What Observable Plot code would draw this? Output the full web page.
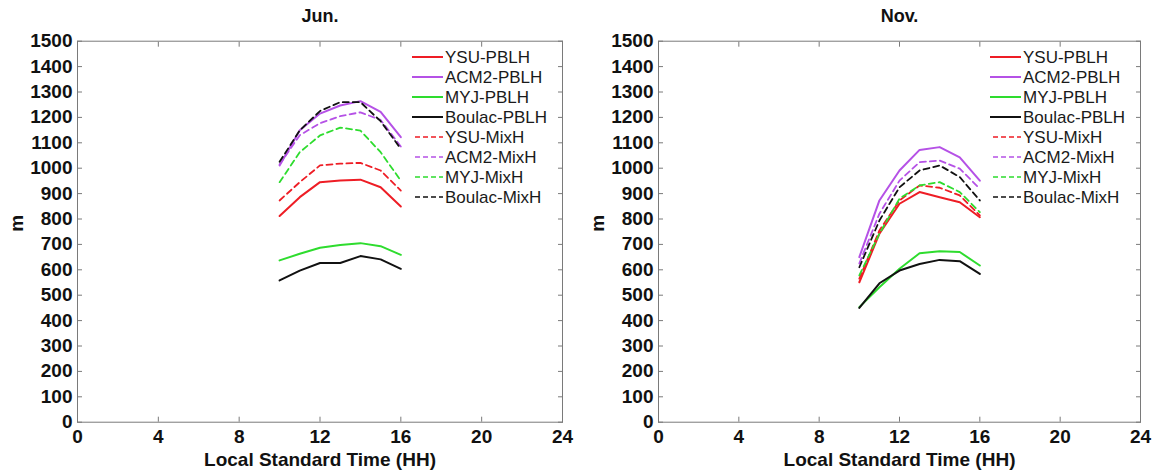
<!DOCTYPE html>
<html>
<head>
<meta charset="utf-8">
<script src="https://cdn.jsdelivr.net/npm/d3@7"></script>
<script src="https://cdn.jsdelivr.net/npm/@observablehq/plot@0.6"></script>
<style>
  body { margin: 0; background: #fff; overflow: hidden; }
  #wrap { position: relative; width: 1154px; height: 472px; font-family: "Liberation Sans", Arial, Helvetica, sans-serif; }
  .panel { position: absolute; top: 0; }
</style>
</head>
<body>
<div id="wrap">
  <div id="left" class="panel" style="left:0px"></div>
  <div id="right" class="panel" style="left:580px"></div>
</div>
<script>
// ---- data ----
const hours = [10, 11, 12, 13, 14, 15, 16];
const seriesNames = ["YSU-PBLH", "ACM2-PBLH", "MYJ-PBLH", "Boulac-PBLH", "YSU-MixH", "ACM2-MixH", "MYJ-MixH", "Boulac-MixH"];
const seriesColors = ["#ee1d25", "#b551e6", "#2edc2e", "#111111", "#ee1d25", "#b551e6", "#2edc2e", "#111111"];
const seriesDashed = [false, false, false, false, true, true, true, true];
const xTicks = [0, 4, 8, 12, 16, 20, 24];
const yTicks = [0, 100, 200, 300, 400, 500, 600, 700, 800, 900, 1000, 1100, 1200, 1300, 1400, 1500];

// June
const junYSU_PBLH    = [812, 886, 945, 952, 955, 925, 849];
const junACM2_PBLH   = [1011, 1149, 1215, 1247, 1264, 1222, 1122];
const junMYJ_PBLH    = [637, 663, 687, 698, 705, 693, 659];
const junBoulac_PBLH = [558, 597, 627, 627, 654, 641, 604];
const junYSU_MixH    = [873, 945, 1011, 1018, 1021, 991, 912];
const junACM2_MixH   = [1015, 1130, 1177, 1205, 1220, 1190, 1085];
const junMYJ_MixH    = [945, 1063, 1129, 1160, 1148, 1063, 951];
const junBoulac_MixH = [1025, 1149, 1225, 1260, 1260, 1185, 1076];

// November
const novYSU_PBLH    = [551, 742, 860, 906, 886, 866, 807];
const novACM2_PBLH   = [650, 873, 991, 1072, 1083, 1043, 951];
const novMYJ_PBLH    = [453, 531, 604, 665, 673, 670, 617];
const novBoulac_PBLH = [450, 547, 597, 623, 639, 634, 584];
const novYSU_MixH    = [565, 755, 873, 932, 923, 893, 814];
const novACM2_MixH   = [625, 821, 951, 1024, 1030, 998, 919];
const novMYJ_MixH    = [578, 742, 880, 932, 945, 906, 827];
const novBoulac_MixH = [610, 794, 925, 991, 1011, 965, 873];

const junValues = [junYSU_PBLH, junACM2_PBLH, junMYJ_PBLH, junBoulac_PBLH, junYSU_MixH, junACM2_MixH, junMYJ_MixH, junBoulac_MixH];
const novValues = [novYSU_PBLH, novACM2_PBLH, novMYJ_PBLH, novBoulac_PBLH, novYSU_MixH, novACM2_MixH, novMYJ_MixH, novBoulac_MixH];

const FONT = '"Liberation Sans", Arial, Helvetica, sans-serif';

function makePanel(title, values, width, mLeft, mRight) {
  const H = 472, mTop = 40.7, mBottom = 50.3;
  const lineMarks = [];
  seriesNames.forEach((name, i) => {
    const rows = hours.map((h, j) => ({hour: h, value: values[i][j], series: name}));
    lineMarks.push(Plot.line(rows, {
      x: "hour", y: "value",
      stroke: seriesColors[i],
      strokeWidth: seriesDashed[i] ? 1.8 : 2,
      strokeDasharray: seriesDashed[i] ? "6,4" : null
    }));
  });
  const axisStyle = {fontSize: 19, fontWeight: "bold", fill: "#111"};
  const svg = Plot.plot({
    width, height: H,
    marginLeft: mLeft, marginRight: mRight, marginTop: mTop, marginBottom: mBottom,
    style: {fontFamily: FONT, background: "#fff", color: "#111", overflow: "visible"},
    x: {domain: [0, 24]},
    y: {domain: [0, 1500]},
    marks: [
      ...lineMarks,
      Plot.frame({stroke: "#7a7a7a", strokeWidth: 1}),
      // inward ticks on all four sides
      Plot.axisX({ticks: xTicks, anchor: "bottom", tickSize: -5, tickFormat: () => "", stroke: "#7a7a7a", label: null}),
      Plot.axisX({ticks: xTicks, anchor: "top", tickSize: -5, tickFormat: () => "", stroke: "#7a7a7a", label: null}),
      Plot.axisY({ticks: yTicks, anchor: "left", tickSize: -5, tickFormat: () => "", stroke: "#7a7a7a", label: null}),
      Plot.axisY({ticks: yTicks, anchor: "right", tickSize: -5, tickFormat: () => "", stroke: "#7a7a7a", label: null}),
      // tick labels
      Plot.axisX({ticks: xTicks, anchor: "bottom", tickSize: 0, tickPadding: 7, tickFormat: d => String(d), label: null, ...axisStyle}),
      Plot.axisY({ticks: yTicks, anchor: "left", tickSize: 0, tickPadding: 5, tickFormat: d => String(d), label: null, ...axisStyle}),
      // axis titles and panel title
      Plot.text(["Local Standard Time (HH)"], {text: d => d, frameAnchor: "bottom", dy: 44, ...axisStyle}),
      Plot.text(["m"], {text: d => d, frameAnchor: "left", dx: -61, rotate: -90, ...axisStyle}),
      Plot.text([title], {text: d => d, frameAnchor: "top", dy: -32, fontSize: 18, fontWeight: "bold", fill: "#111"})
    ]
  });

  // legend (inside the axes, top right)
  const right = width - mRight;
  const g = d3.select(svg).append("g")
    .attr("font-family", FONT).attr("font-size", 17).attr("fill", "#1a1a1a")
    .attr("text-anchor", "start").attr("font-weight", "normal");
  seriesNames.forEach((name, i) => {
    const y = 57 + 20 * i;
    g.append("line")
      .attr("x1", right - (seriesDashed[i] ? 147 : 150)).attr("x2", right - 119)
      .attr("y1", y).attr("y2", y)
      .attr("stroke", seriesColors[i])
      .attr("stroke-width", seriesDashed[i] ? 1.6 : 2)
      .attr("stroke-dasharray", seriesDashed[i] ? "5,3" : null);
    g.append("text").attr("x", right - 117).attr("y", y).attr("dy", "0.35em")
      .attr("text-anchor", "start").text(name);
  });
  return svg;
}

document.getElementById("left").appendChild(makePanel("Jun.", junValues, 580, 77, 18));
document.getElementById("right").appendChild(makePanel("Nov.", novValues, 574, 78, 14));
</script>
</body>
</html>
